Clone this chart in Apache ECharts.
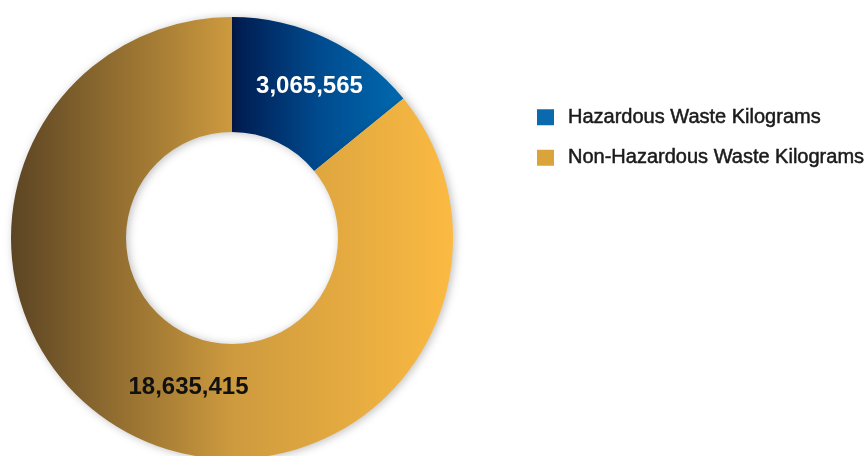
<!DOCTYPE html>
<html>
<head>
<meta charset="utf-8">
<script src="https://cdn.jsdelivr.net/npm/echarts@6/dist/echarts.min.js"></script>
<style>
  html, body { margin: 0; padding: 0; background: #ffffff; }
  #chart { width: 866px; height: 456px; }
</style>
</head>
<body>
<div id="chart"></div>
<script>
// Waste totals by category
const categories = ['Hazardous Waste Kilograms', 'Non-Hazardous Waste Kilograms'];
const kilograms = [3065565, 18635415];

// Slice shading: dark at the left edge, bright at the right
const sliceGradients = [
  [[0, '#001a4e'], [0.5, '#004a8e'], [1, '#006ab0']],
  [[0, '#5c4524'], [0.5, '#cd9a3e'], [1, '#fbba42']]
];
const legendColors = ['#0a6aad', '#dba43a'];
const labelColors = ['#ffffff', '#111111'];
const labelOffsets = [[6, -1], [28, -1]];

const fmt = v => v.toLocaleString('en-US');

const chart = echarts.init(document.getElementById('chart'), null, { renderer: 'canvas' });

chart.setOption({
  animation: false,
  legend: {
    orient: 'vertical',
    left: 532,
    top: 102,
    itemWidth: 17,
    itemHeight: 16,
    itemGap: 20,
    selectedMode: false,
    textStyle: {
      fontFamily: 'Liberation Sans, Arial, sans-serif',
      fontSize: 20,
      color: '#1a1a1a',
      textBorderColor: '#1a1a1a',
      textBorderWidth: 0.5,
      padding: [0, 0, 0, 9]
    },
    data: categories.map((name, i) => ({
      name,
      icon: 'rect',
      itemStyle: { color: legendColors[i] }
    }))
  },
  series: [{
    type: 'pie',
    center: [232, 238],
    radius: [106, 221],
    startAngle: 90,
    clockwise: true,
    silent: true,
    avoidLabelOverlap: false,
    labelLine: { show: false },
    itemStyle: {
      borderWidth: 0,
      shadowBlur: 8,
      shadowOffsetX: 2,
      shadowOffsetY: 1,
      shadowColor: 'rgba(0,0,0,0.25)'
    },
    data: categories.map((name, i) => ({
      name,
      value: kilograms[i],
      itemStyle: {
        color: new echarts.graphic.LinearGradient(0, 0, 1, 0,
          sliceGradients[i].map(([offset, color]) => ({ offset, color })))
      },
      label: {
        show: true,
        position: 'inside',
        formatter: p => fmt(p.value),
        color: labelColors[i],
        fontFamily: 'Liberation Sans, Arial, sans-serif',
        fontWeight: 'bold',
        fontSize: 24,
        offset: labelOffsets[i]
      }
    }))
  }]
});
</script>
</body>
</html>
